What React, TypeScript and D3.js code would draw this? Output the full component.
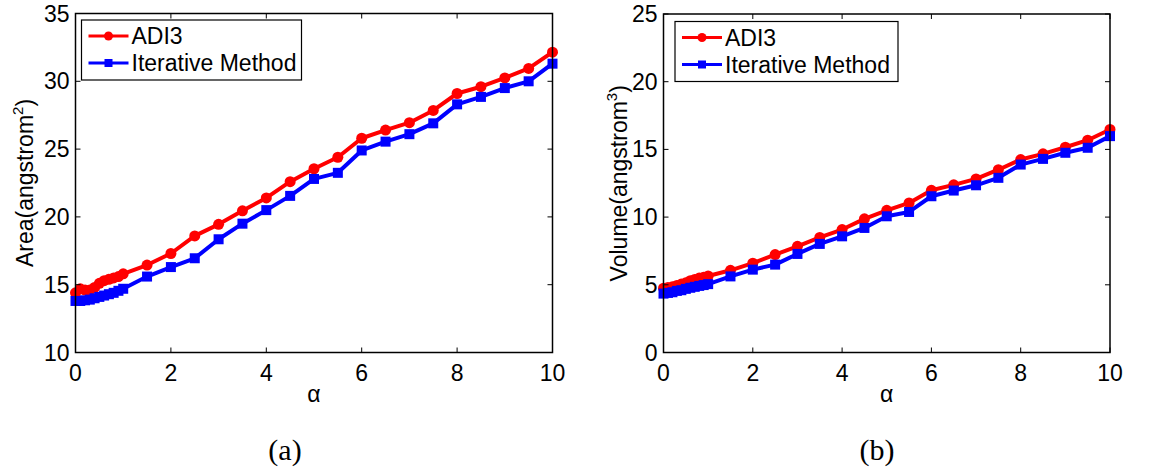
import React from "react";
import * as d3 from "d3";

const alphaValues = [0, 0.1, 0.2, 0.3, 0.4, 0.5, 0.6, 0.7, 0.8, 0.9, 1.0, 1.5, 2, 2.5, 3, 3.5, 4, 4.5, 5, 5.5, 6, 6.5, 7, 7.5, 8, 8.5, 9, 9.5, 10];

const areaADI3 = [14.4, 14.7, 14.6, 14.6, 14.8, 15.1, 15.3, 15.4, 15.5, 15.6, 15.8, 16.45, 17.3, 18.6, 19.45, 20.45, 21.4, 22.6, 23.55, 24.4, 25.8, 26.4, 26.95, 27.85, 29.1, 29.6, 30.25, 30.95, 32.15];
const areaIterative = [13.8, 13.8, 13.85, 13.9, 14.0, 14.1, 14.2, 14.3, 14.4, 14.55, 14.7, 15.6, 16.3, 16.95, 18.35, 19.5, 20.5, 21.55, 22.8, 23.25, 24.9, 25.55, 26.1, 26.9, 28.3, 28.85, 29.5, 30.0, 31.3];

const volumeADI3 = [4.75, 4.8, 4.85, 4.95, 5.05, 5.15, 5.3, 5.4, 5.5, 5.55, 5.65, 6.07, 6.6, 7.23, 7.84, 8.5, 9.08, 9.87, 10.5, 11.05, 11.98, 12.38, 12.82, 13.5, 14.25, 14.67, 15.16, 15.68, 16.47];
const volumeIterative = [4.35, 4.4, 4.45, 4.55, 4.6, 4.7, 4.78, 4.85, 4.92, 4.98, 5.05, 5.62, 6.12, 6.49, 7.28, 8.02, 8.58, 9.2, 10.06, 10.38, 11.54, 11.96, 12.35, 12.9, 13.88, 14.3, 14.75, 15.12, 15.98];

const xTicks = [0, 2, 4, 6, 8, 10];
const areaTicks = [10, 15, 20, 25, 30, 35];
const volumeTicks = [0, 5, 10, 15, 20, 25];
const seriesNames = ["ADI3", "Iterative Method"];

const FONT = "'Liberation Sans', Arial, Helvetica, sans-serif";
const FS = 23;
const RED = "#ff0000";
const BLUE = "#0000ff";

type PanelProps = {
  left: number; right: number; top: number; bottom: number;
  yDomain: [number, number]; yTicks: number[];
  a: number[]; b: number[];
  yLabel: string; sup: string; labelX: number;
  caption: string; captionX: number;
  legend: { x: number; y: number; w: number; h: number };
};

function Panel(p: PanelProps) {
  const x = d3.scaleLinear().domain([0, 10]).range([p.left, p.right]);
  const y = d3.scaleLinear().domain(p.yDomain).range([p.bottom, p.top]);
  const line = d3.line<number>().x((_, i) => x(alphaValues[i])).y((d) => y(d));
  const tl = 5;
  const midY = (p.top + p.bottom) / 2;
  const lg = p.legend;
  const row1 = lg.y + 16;
  const row2 = lg.y + 43;
  return (
    <g>
      <path d={line(p.a) || ""} fill="none" stroke={RED} strokeWidth={4} strokeLinejoin="round" />
      {p.a.map((v, i) => (
        <circle key={"a" + i} cx={x(alphaValues[i])} cy={y(v)} r={5.5} fill={RED} />
      ))}
      <path d={line(p.b) || ""} fill="none" stroke={BLUE} strokeWidth={4} strokeLinejoin="round" />
      {p.b.map((v, i) => (
        <rect key={"b" + i} x={x(alphaValues[i]) - 5} y={y(v) - 5} width={10} height={10} fill={BLUE} />
      ))}
      <rect x={p.left} y={p.top} width={p.right - p.left} height={p.bottom - p.top} fill="none" stroke="#000" strokeWidth={1.5} />
      {xTicks.map((t) => (
        <g key={"xt" + t}>
          <line x1={x(t)} x2={x(t)} y1={p.bottom} y2={p.bottom - tl} stroke="#000" strokeWidth={1} />
          <line x1={x(t)} x2={x(t)} y1={p.top} y2={p.top + tl} stroke="#000" strokeWidth={1} />
          <text x={x(t)} y={p.bottom + 28} textAnchor="middle" fontFamily={FONT} fontSize={FS}>{t}</text>
        </g>
      ))}
      {p.yTicks.map((t) => (
        <g key={"yt" + t}>
          <line x1={p.left} x2={p.left + tl} y1={y(t)} y2={y(t)} stroke="#000" strokeWidth={1} />
          <line x1={p.right} x2={p.right - tl} y1={y(t)} y2={y(t)} stroke="#000" strokeWidth={1} />
          <text x={p.left - 6} y={y(t) + 8} textAnchor="end" fontFamily={FONT} fontSize={FS}>{t}</text>
        </g>
      ))}
      <text x={(p.left + p.right) / 2} y={p.bottom + 49} textAnchor="middle" fontFamily={FONT} fontSize={FS}>α</text>
      <text transform={`translate(${p.labelX},${midY}) rotate(-90)`} textAnchor="middle" fontFamily={FONT} fontSize={FS}>
        {p.yLabel}
        <tspan fontSize={15} dy={-10}>{p.sup}</tspan>
        <tspan dy={10}>)</tspan>
      </text>
      <text x={p.captionX} y={460} textAnchor="middle" fontFamily="'Liberation Serif', 'DejaVu Serif', serif" fontSize={30}>{p.caption}</text>
      <rect x={lg.x} y={lg.y} width={lg.w} height={lg.h} fill="#fff" stroke="#000" strokeWidth={1.2} />
      <line x1={lg.x + 7} x2={lg.x + 47} y1={row1} y2={row1} stroke={RED} strokeWidth={3} />
      <circle cx={lg.x + 27} cy={row1} r={4.5} fill={RED} />
      <text x={lg.x + 50} y={row1 + 8} fontFamily={FONT} fontSize={FS}>{seriesNames[0]}</text>
      <line x1={lg.x + 7} x2={lg.x + 47} y1={row2} y2={row2} stroke={BLUE} strokeWidth={3} />
      <rect x={lg.x + 23} y={row2 - 4} width={8} height={8} fill={BLUE} />
      <text x={lg.x + 50} y={row2 + 8} fontFamily={FONT} fontSize={FS}>{seriesNames[1]}</text>
    </g>
  );
}

export default function App() {
  return (
    <svg width={1164} height={470} style={{ position: "absolute", left: 0, top: 0, background: "#fff" }}>
      <rect x={0} y={0} width={1164} height={470} fill="#fff" />
      <Panel
        left={75.5} right={552.5} top={13.5} bottom={352.5}
        yDomain={[10, 35]} yTicks={areaTicks}
        a={areaADI3} b={areaIterative}
        yLabel="Area(angstrom" sup="2" labelX={33}
        caption="(a)" captionX={285}
        legend={{ x: 81.5, y: 20, w: 220, h: 60 }}
      />
      <Panel
        left={663.5} right={1110} top={14} bottom={352.5}
        yDomain={[0, 25]} yTicks={volumeTicks}
        a={volumeADI3} b={volumeIterative}
        yLabel="Volume(angstrom" sup="3" labelX={627}
        caption="(b)" captionX={877}
        legend={{ x: 675, y: 21.5, w: 223, h: 60 }}
      />
    </svg>
  );
}
